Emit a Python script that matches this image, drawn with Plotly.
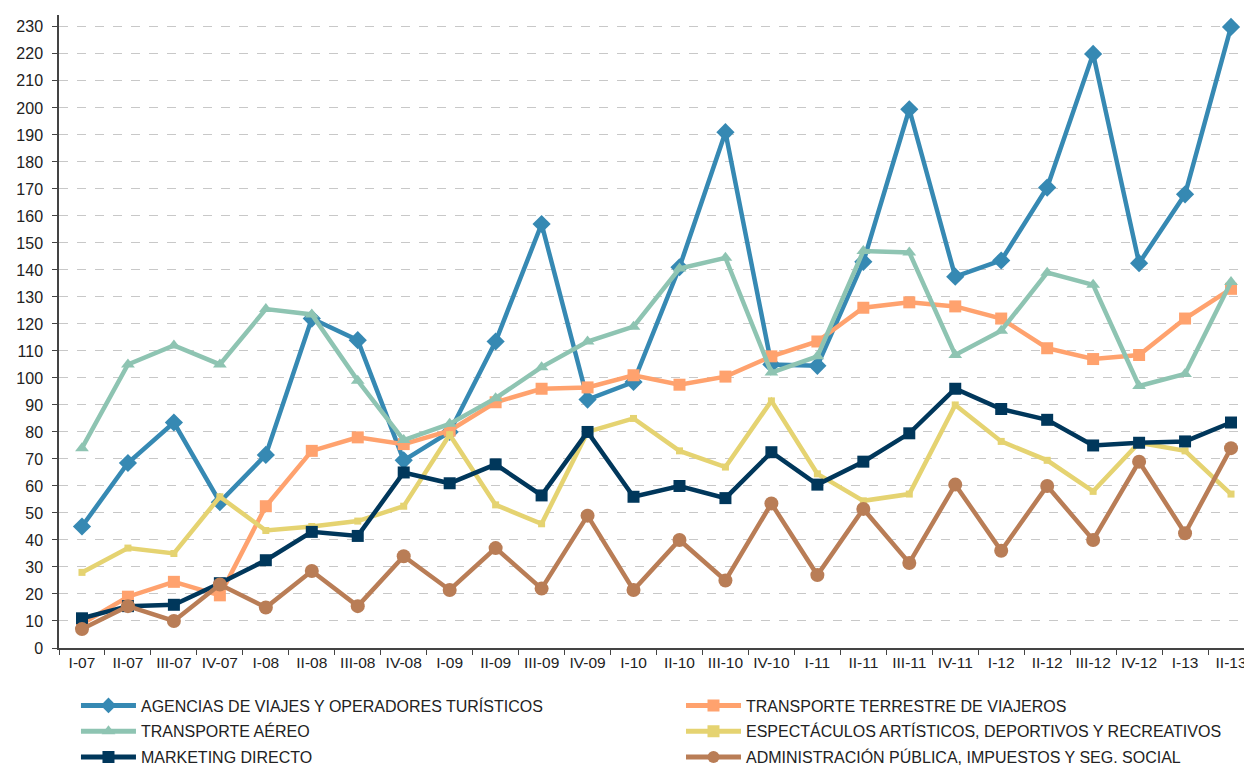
import plotly.graph_objects as go

categories = ["I-07", "II-07", "III-07", "IV-07", "I-08", "II-08", "III-08", "IV-08",
              "I-09", "II-09", "III-09", "IV-09", "I-10", "II-10", "III-10", "IV-10",
              "I-11", "II-11", "III-11", "IV-11", "I-12", "II-12", "III-12", "IV-12",
              "I-13", "II-13"]

agencias = [45, 68.5, 83.5, 54, 71.5, 122, 114, 69.5, 80, 113.5, 157, 92, 98.5, 141,
            191, 105, 104.5, 143, 199.5, 137.5, 143.5, 170.5, 220, 142.5, 168, 230]
terrestre = [9, 19, 24.5, 19.5, 52.5, 73, 78, 75.5, 80.5, 91, 96, 96.5, 101, 97.5,
             100.5, 108, 113.5, 126, 128, 126.5, 122, 111, 107, 108.5, 122, 133]
aereo = [74, 105, 112, 105, 125.5, 123.5, 99, 77, 83, 92.5, 104, 113.5, 119, 140.5,
         144.5, 102, 108, 147, 146.5, 108.5, 117.5, 139, 134.5, 97, 101.5, 135.5]
espectaculos = [28, 37, 35, 56, 43.5, 45, 47, 52.5, 79, 53, 46, 80, 85, 73, 67, 91.5,
                64.5, 54.5, 57, 90, 76.5, 69.5, 58, 76, 73, 57]
marketing = [11, 15.5, 16, 24, 32.5, 43, 41.5, 65, 61, 68, 56.5, 80, 56, 60, 55.5, 72.5,
             60.5, 69, 79.5, 96, 88.5, 84.5, 75, 76, 76.5, 83.5]
administracion = [7, 15.5, 10, 23.5, 15, 28.5, 15.5, 34, 21.5, 37, 22, 49, 21.5, 40, 25,
                  53.5, 27, 51.5, 31.5, 60.5, 36, 60, 40, 69, 42.5, 74]

y_ticks = list(range(0, 231, 10))

# name, values, color, symbol, size, legend column
series = [
    ("AGENCIAS DE VIAJES Y OPERADORES TURÍSTICOS", agencias, "#3689B3", "diamond", 14, "legend"),
    ("TRANSPORTE TERRESTRE DE VIAJEROS", terrestre, "#FFA26E", "square", 12, "legend2"),
    ("TRANSPORTE AÉREO", aereo, "#8EC4B2", "triangle-up", 12, "legend"),
    ("ESPECTÁCULOS ARTÍSTICOS, DEPORTIVOS Y RECREATIVOS", espectaculos, "#E5D371", "square", 7, "legend2"),
    ("MARKETING DIRECTO", marketing, "#00375B", "square", 12, "legend"),
    ("ADMINISTRACIÓN PÚBLICA, IMPUESTOS Y SEG. SOCIAL", administracion, "#B97D56", "circle", 14, "legend2"),
]

fig = go.Figure()
for i, (name, vals, color, sym, size, leg) in enumerate(series):
    fig.add_trace(go.Scatter(
        x=categories, y=vals, name=name, mode="lines+markers",
        line=dict(color=color, width=4.5),
        marker=dict(symbol=sym, size=size, color=color),
        legend=leg, legendgroup=f"g{i}",
    ))

legend_common = dict(
    orientation="v", yanchor="top", xanchor="left", y=-0.064,
    font=dict(size=16, color="#222222"), tracegroupgap=2, itemwidth=55,
    bgcolor="rgba(0,0,0,0)", itemsizing="constant",
)

fig.update_layout(
    width=1252, height=772,
    margin=dict(l=51, r=6, t=7, b=124),
    paper_bgcolor="white", plot_bgcolor="white",
    font=dict(family="Liberation Sans, Arial, sans-serif", size=14, color="#222222"),
    showlegend=True,
    legend=dict(x=0.0142, **legend_common),
    legend2=dict(x=0.5205, **legend_common),
)
fig.update_xaxes(
    type="category", tickson="boundaries", ticks="outside", ticklen=5,
    tickcolor="#444444", showline=True, linecolor="#444444", linewidth=1.5,
    showgrid=False, tickfont=dict(size=15.5), range=[-0.5, len(categories) - 0.5],
    automargin=False,
)
fig.update_yaxes(
    range=[0, 234.4], tickvals=y_ticks, ticks="outside", ticklen=5,
    tickcolor="#444444", showline=True, linecolor="#444444", linewidth=1.5,
    showgrid=True, gridcolor="#C8C8C8", griddash="dash", gridwidth=1,
    tickfont=dict(size=16), zeroline=False, automargin=False, ticklabelstandoff=6,
)

fig.write_html("out.html")
